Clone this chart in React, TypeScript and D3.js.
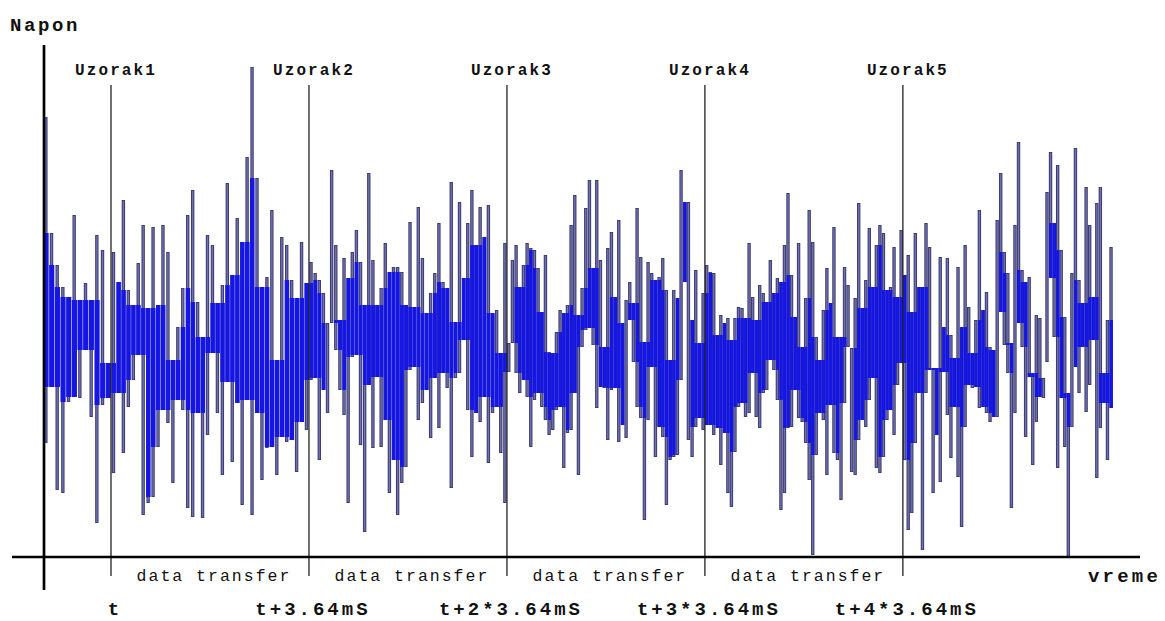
import React from 'react';
import * as d3 from 'd3';

// Sampling period between consecutive "Uzorak" markers (ms)
const SAMPLE_PERIOD_MS = 3.64;

const markerLabels = ['Uzorak1', 'Uzorak2', 'Uzorak3', 'Uzorak4', 'Uzorak5'];
const timeLabels = ['t', 't+3.64mS', 't+2*3.64mS', 't+3*3.64mS', 't+4*3.64mS'];
const transferLabel = 'data transfer';
const yAxisTitle = 'Napon';
const xAxisTitle = 'vreme';

// Voltage excursions [high, low] of the noisy signal, grouped by interval.
const leadIn = [
  [440, 114], [324, 170], [292, 67], [270, 64], [260, 155], [342, 160], [257, 159],
  [274, 207], [257, 140], [322, 34], [307, 152], [194, 159],
];
const interval1 = [
  [305, 84], [275, 164], [357, 104], [267, 150], [252, 177], [294, 202], [332, 42],
  [249, 54], [330, 60], [252, 110], [332, 147], [305, 134], [197, 74], [230, 157],
  [269, 147], [342, 49], [367, 40], [255, 144], [220, 39], [322, 122], [312, 204],
  [254, 144], [272, 82], [374, 175], [282, 95], [339, 154], [315, 52], [400, 157],
  [490, 42], [379, 144], [270, 77], [280, 109], [347, 110], [197, 82], [320, 120],
  [312, 115], [277, 117], [259, 85], [315, 135], [274, 127],
];
const interval2 = [
  [295, 177], [284, 179], [277, 97], [264, 167], [234, 144], [387, 234], [312, 207],
  [237, 167], [299, 142], [279, 54], [305, 200], [327, 202], [295, 112], [252, 25],
  [384, 172], [297, 109], [252, 180], [269, 110], [314, 137], [285, 64], [290, 97],
  [290, 42], [285, 74], [252, 90], [335, 187], [250, 190], [350, 137], [299, 154],
  [244, 167], [264, 119], [284, 179], [334, 129], [275, 184], [269, 169], [375, 69],
  [235, 179], [355, 184], [279, 217], [334, 147], [367, 100], [312, 144], [350, 135],
  [320, 160], [352, 94], [244, 144], [247, 150], [204, 104], [314, 54],
];
const interval3 = [
  [214, 185], [297, 214], [312, 184], [270, 164], [292, 177], [314, 160], [309, 110],
  [307, 157], [289, 164], [245, 150], [302, 137], [205, 122], [204, 127], [225, 147],
  [247, 150], [244, 89], [252, 124], [332, 127], [362, 164], [242, 82], [269, 210],
  [349, 227], [377, 229], [289, 212], [377, 149], [297, 170], [210, 169], [309, 117],
  [325, 167], [260, 169], [337, 115], [234, 132], [257, 119], [275, 237], [254, 195],
  [349, 150], [300, 139], [215, 37], [295, 137], [284, 190], [277, 100], [280, 130],
  [299, 120], [267, 52], [197, 97], [267, 100], [259, 102], [387, 177], [355, 275],
  [355, 117], [237, 100], [287, 130], [214, 139], [264, 127],
];
const interval4 = [
  [292, 132], [285, 132], [284, 122], [222, 129], [242, 92], [234, 124], [239, 64],
  [217, 50], [239, 105], [250, 150], [249, 154], [239, 140], [314, 144], [260, 184],
  [237, 140], [272, 129], [264, 164], [255, 167], [297, 197], [264, 187], [279, 157],
  [275, 47], [312, 64], [364, 129], [282, 130], [240, 167], [314, 139], [210, 135],
  [259, 114], [347, 77], [315, 2], [220, 102], [197, 144], [247, 137], [289, 82],
  [254, 152], [330, 104], [220, 97], [220, 57], [290, 154], [272, 210], [209, 85],
  [259, 82], [354, 117], [249, 137], [277, 130], [329, 157], [270, 179], [312, 89],
  [332, 84], [324, 100], [267, 137], [270, 147], [310, 122], [260, 172], [327, 194],
];
const tail = [
  [282, 97], [302, 27], [245, 44], [324, 114], [270, 164], [270, 7], [334, 164],
  [310, 187], [189, 64], [189, 122], [300, 75], [230, 185], [299, 142], [222, 99],
  [199, 150], [290, 80], [230, 30], [312, 130], [250, 172], [204, 169], [237, 170],
  [347, 149], [247, 150], [265, 144], [210, 135], [207, 140], [337, 140], [384, 245],
  [305, 212], [284, 184], [214, 49], [332, 144], [415, 234], [287, 210], [275, 120],
  [280, 180], [184, 92], [242, 135], [239, 160], [179, 159], [365, 195], [405, 279],
  [334, 220], [392, 89], [307, 159], [240, 110], [164, 0], [284, 130], [409, 190],
  [277, 164], [254, 210], [370, 145], [332, 172], [260, 217], [354, 79], [370, 129],
  [184, 154], [237, 97], [310, 149],
];

// Time spans (ms, relative to the first sample) covered by each group above
const groups = [
  { values: leadIn, start: -1.25, end: 0 },
  { values: interval1, start: 0, end: SAMPLE_PERIOD_MS },
  { values: interval2, start: SAMPLE_PERIOD_MS, end: 2 * SAMPLE_PERIOD_MS },
  { values: interval3, start: 2 * SAMPLE_PERIOD_MS, end: 3 * SAMPLE_PERIOD_MS },
  { values: interval4, start: 3 * SAMPLE_PERIOD_MS, end: 4 * SAMPLE_PERIOD_MS },
  { values: tail, start: 4 * SAMPLE_PERIOD_MS, end: 18.42 },
];

const WIDTH = 1165;
const HEIGHT = 621;
const MONO = "'Courier New', 'Liberation Mono', 'DejaVu Sans Mono', monospace";

export default function App() {
  const x = d3.scaleLinear().domain([-1.232, 18.92]).range([44, 1140]);
  const y = d3.scaleLinear().domain([0, 512]).range([557, 45]);

  // flatten into timed samples
  const samples: { t: number; hi: number; lo: number; step: number }[] = [];
  groups.forEach((g) => {
    const step = (g.end - g.start) / g.values.length;
    g.values.forEach(([hi, lo], j) => {
      samples.push({ t: g.start + (j + 0.5) * step, hi, lo, step });
    });
  });

  // dense core: range shared by each sample and its neighbours
  const core = samples.map((s, i) => {
    const win = samples.slice(Math.max(0, i - 1), Math.min(samples.length, i + 2));
    const top = d3.min(win, (d) => d.hi) as number;
    const bot = d3.max(win, (d) => d.lo) as number;
    return { t: s.t, step: s.step, top, bot };
  }).filter((c) => c.top > c.bot);

  const markerTimes = markerLabels.map((_, i) => i * SAMPLE_PERIOD_MS);

  return (
    <svg width={WIDTH} height={HEIGHT} style={{ position: 'absolute', left: 0, top: 0, background: '#fff' }}>
      <rect width={WIDTH} height={HEIGHT} fill="#fff" />
      {/* signal spikes */}
      <g>
        {samples.map((s, i) => (
          <line key={'o' + i} x1={x(s.t)} x2={x(s.t)} y1={y(s.hi)} y2={y(s.lo)} stroke="#3e3e72" strokeWidth={3.4} />
        ))}
        {samples.map((s, i) => (
          <line key={'c' + i} x1={x(s.t)} x2={x(s.t)} y1={y(s.hi) + 1} y2={y(s.lo) - 1} stroke="#7272b2" strokeWidth={1.3} />
        ))}
      </g>
      {/* dense part of the trace */}
      <g fill="#1616e2">
        {core.map((c, i) => {
          const x0 = x(c.t - c.step * 0.42);
          const x1 = x(c.t + c.step * 0.42);
          return (
            <rect key={i} x={x0} width={x1 - x0 + 0.4} y={y(c.top)} height={y(c.bot) - y(c.top)} />
          );
        })}
      </g>

      {/* sample markers */}
      {markerTimes.map((t, i) => (
        <g key={i}>
          <line x1={x(t)} x2={x(t)} y1={85} y2={576} stroke="#222" strokeWidth={1.3} />
          <text x={x(t) + 5} y={75} textAnchor="middle" fontFamily={MONO} fontWeight="bold" fontSize={16}
            letterSpacing={2.1} fill="#111">{markerLabels[i]}</text>
          <text x={x(t) + 4} y={615} textAnchor="middle" fontFamily={MONO} fontWeight="bold" fontSize={19}
            letterSpacing={3} fill="#111">{timeLabels[i]}</text>
        </g>
      ))}
      {markerTimes.slice(0, -1).map((t, i) => (
        <text key={'dt' + i} x={(x(t) + x(t + SAMPLE_PERIOD_MS)) / 2 + 4} y={581} textAnchor="middle"
          fontFamily={MONO} fontSize={16.5} letterSpacing={2} fill="#111">{transferLabel}</text>
      ))}

      {/* axes */}
      <line x1={44} x2={44} y1={45} y2={590} stroke="#000" strokeWidth={2.7} />
      <line x1={12} x2={1140} y1={557} y2={557} stroke="#000" strokeWidth={2.7} />
      <text x={10} y={31} fontFamily={MONO} fontWeight="bold" fontSize={19} letterSpacing={2.6} fill="#111">{yAxisTitle}</text>
      <text x={1088} y={582} fontFamily={MONO} fontWeight="bold" fontSize={19} letterSpacing={3.2} fill="#111">{xAxisTitle}</text>
    </svg>
  );
}
